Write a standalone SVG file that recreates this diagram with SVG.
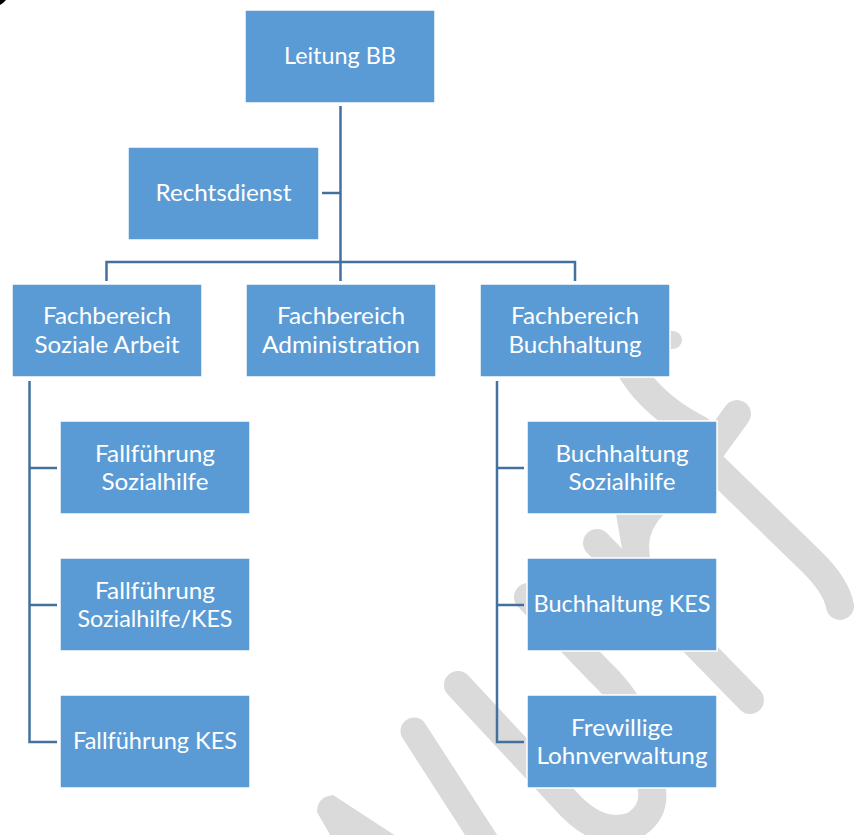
<svg xmlns="http://www.w3.org/2000/svg" width="854" height="835" viewBox="0 0 854 835">
<style>
.wm-s{fill:none;stroke:#dadada;stroke-linecap:round;stroke-linejoin:round}
.wm-f{fill:#dadada}
.node rect{fill:#5b9bd5;stroke:#ffffff;stroke-width:1.5}
.node text{font-family:Lato,"Open Sans","Liberation Sans",sans-serif;font-size:23.5px;fill:#ffffff;text-anchor:middle}
#connectors path{fill:none;stroke:#41719c;stroke-width:2.5}
</style>
<rect x="0" y="0" width="854" height="835" fill="#ffffff"/>
<path d="M0,0 H6 L3,3 L0,5 Z" fill="#000000"/>
<g id="watermark">
  <path class="wm-f" d="M317,812 Q317,797 333,795 L402,840 L333,840 Z"/>
  <path class="wm-s" stroke-width="27" d="M414,731 L492,852"/>
  <path class="wm-s" stroke-width="28" d="M458,685 L565,800 Q600,840 635,825 Q655,812 652,790 L645,740 Q630,700 600,672 L528,597"/>
  <path class="wm-s" stroke-width="28" d="M597,543 L750,700"/>
  <path class="wm-f" d="M616,514 L664,514 Q650,528 649,545 L650,560 L624,560 Z"/>
  <path class="wm-s" stroke-width="28" d="M737,414 L705,458 L810,560 Q836,585 840,606"/>
  <path class="wm-s" stroke-width="28" d="M615,330 Q630,395 700,430"/>
  <path class="wm-s" stroke-width="18" d="M660,340 L673,340"/>
</g>
<g id="connectors">
  <path d="M340.5,106 V281"/>
  <path d="M322,193 H340.5"/>
  <path d="M106.5,281 V262 H575 V281"/>
  <path d="M29.5,381 V742 H57"/>
  <path d="M29.5,468 H57"/>
  <path d="M29.5,605 H57"/>
  <path d="M497,381 V742 H524"/>
  <path d="M497,468 H524"/>
  <path d="M497,605 H524"/>
</g>
<g id="n-leitung" class="node">
  <rect x="245" y="10" width="190" height="93"/>
  <text x="340" y="64" textLength="112" lengthAdjust="spacingAndGlyphs">Leitung BB</text>
</g>
<g id="n-rechtsdienst" class="node">
  <rect x="128" y="147" width="191" height="93"/>
  <text x="223.5" y="201" textLength="136" lengthAdjust="spacingAndGlyphs">Rechtsdienst</text>
</g>
<g id="n-soziale-arbeit" class="node">
  <rect x="12" y="284" width="190" height="93"/>
  <text x="107" y="324" textLength="128" lengthAdjust="spacingAndGlyphs">Fachbereich</text>
  <text x="107" y="352.5" textLength="145" lengthAdjust="spacingAndGlyphs">Soziale Arbeit</text>
</g>
<g id="n-administration" class="node">
  <rect x="246" y="284" width="190" height="93"/>
  <text x="341" y="324" textLength="128" lengthAdjust="spacingAndGlyphs">Fachbereich</text>
  <text x="341" y="352.5" textLength="158" lengthAdjust="spacingAndGlyphs">Administration</text>
</g>
<g id="n-buchhaltung" class="node">
  <rect x="480" y="284" width="190" height="93"/>
  <text x="575" y="324" textLength="128" lengthAdjust="spacingAndGlyphs">Fachbereich</text>
  <text x="575" y="352.5" textLength="133" lengthAdjust="spacingAndGlyphs">Buchhaltung</text>
</g>
<g id="n-ff-sozialhilfe" class="node">
  <rect x="60" y="421" width="190" height="93"/>
  <text x="155" y="461.5" textLength="120" lengthAdjust="spacingAndGlyphs">Fallführung</text>
  <text x="155" y="489.5" textLength="107" lengthAdjust="spacingAndGlyphs">Sozialhilfe</text>
</g>
<g id="n-ff-sozialhilfe-kes" class="node">
  <rect x="60" y="558" width="190" height="93"/>
  <text x="155" y="598.5" textLength="120" lengthAdjust="spacingAndGlyphs">Fallführung</text>
  <text x="155" y="626.5" textLength="155" lengthAdjust="spacingAndGlyphs">Sozialhilfe/KES</text>
</g>
<g id="n-ff-kes" class="node">
  <rect x="60" y="695" width="190" height="93"/>
  <text x="155" y="749" textLength="164" lengthAdjust="spacingAndGlyphs">Fallführung KES</text>
</g>
<g id="n-bh-sozialhilfe" class="node">
  <rect x="527" y="421" width="190" height="93"/>
  <text x="622" y="461.5" textLength="133" lengthAdjust="spacingAndGlyphs">Buchhaltung</text>
  <text x="622" y="489.5" textLength="107" lengthAdjust="spacingAndGlyphs">Sozialhilfe</text>
</g>
<g id="n-bh-kes" class="node">
  <rect x="527" y="558" width="190" height="93"/>
  <text x="622" y="612" textLength="177" lengthAdjust="spacingAndGlyphs">Buchhaltung KES</text>
</g>
<g id="n-lohnverwaltung" class="node">
  <rect x="527" y="695" width="190" height="93"/>
  <text x="622" y="735.5" textLength="102" lengthAdjust="spacingAndGlyphs">Frewillige</text>
  <text x="622" y="763.5" textLength="171" lengthAdjust="spacingAndGlyphs">Lohnverwaltung</text>
</g>
</svg>
